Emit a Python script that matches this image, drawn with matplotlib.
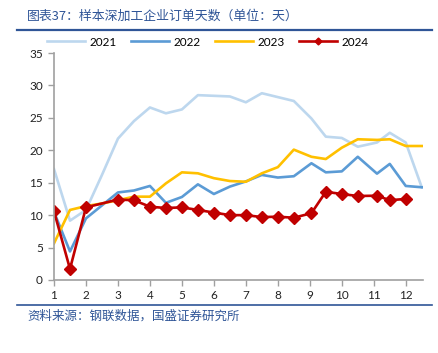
import matplotlib
matplotlib.use("Agg")
import matplotlib.pyplot as plt
from matplotlib.lines import Line2D

plt.rcParams['font.family'] = ['Lato', 'Noto Sans CJK SC', 'DejaVu Sans']

x_all = [1, 1.5, 2, 2.5, 3, 3.5, 4, 4.5, 5, 5.5, 6, 6.5, 7, 7.5, 8, 8.5,
         9.05, 9.5, 10, 10.5, 11.1, 11.5, 12, 12.5]
y2021 = [17.1, 9.15, 10.8, 16.2, 21.8, 24.5, 26.6, 25.7, 26.3, 28.5, 28.4, 28.3,
         27.4, 28.8, 28.2, 27.6, 24.9, 22.1, 21.9, 20.55, 21.2, 22.7, 21.2, 14.3]
y2022 = [10.5, 4.4, 9.5, 11.5, 13.5, 13.8, 14.5, 11.9, 12.8, 14.75, 13.26, 14.4,
         15.2, 16.2, 15.8, 16.0, 18.0, 16.6, 16.75, 19.0, 16.4, 17.9, 14.5, 14.3]
y2023 = [5.65, 10.8, 11.4, 11.8, 12.3, 12.85, 12.85, 14.9, 16.6, 16.45, 15.7, 15.26,
         15.15, 16.45, 17.4, 20.1, 19.0, 18.65, 20.4, 21.7, 21.6, 21.7, 20.66, 20.66]
x2024 = [1, 1.5, 2, 3, 3.5, 4, 4.5, 5, 5.5, 6, 6.5, 7, 7.5, 8, 8.5,
         9.05, 9.5, 10, 10.5, 11.1, 11.5, 12]
y2024 = [10.6, 1.7, 11.2, 12.4, 12.3, 11.3, 11.1, 11.2, 10.8, 10.4, 10.0, 10.0,
         9.7, 9.76, 9.6, 10.3, 13.6, 13.26, 12.95, 13.0, 12.3, 12.5]

x_ticks = list(range(1, 13))
y_ticks = [0, 5, 10, 15, 20, 25, 30, 35]
series_names = ['2021', '2022', '2023', '2024']

title = '图表37：样本深加工企业订单天数（单位：天）'
source = '资料来源：钢联数据，国盛证券研究所'

c21, c22, c23, c24 = '#BDD7EE', '#5B9BD5', '#FFC000', '#C00000'
navy = '#2F5597'

fig = plt.figure(figsize=(4.39, 3.53), dpi=100)
ax = fig.add_axes([54/439, 1-280/353, (422.7-54)/439, (280-53)/353])

lw = 1.9
ax.plot(x_all, y2021, color=c21, lw=lw, label=series_names[0])
ax.plot(x_all, y2022, color=c22, lw=lw, label=series_names[1])
ax.plot(x_all, y2023, color=c23, lw=lw, label=series_names[2])
ax.plot(x2024, y2024, color=c24, lw=lw, marker='D', markersize=6,
        label=series_names[3])

ax.set_xlim(1, 12.53)
ax.set_ylim(0, 35)
ax.set_xticks(x_ticks)
ax.set_yticks(y_ticks)
for s in ['top', 'right']:
    ax.spines[s].set_visible(False)
for s in ['left', 'bottom']:
    ax.spines[s].set_color('#A0A0A0')
    ax.spines[s].set_linewidth(1.2)
ax.tick_params(axis='both', colors='#A0A0A0', length=4, width=1.0,
               labelcolor='#222222', labelsize=8.5)
ax.tick_params(axis='y', pad=4)
ax.tick_params(axis='x', pad=3)
for lab in ax.get_xticklabels() + ax.get_yticklabels():
    lab.set_fontfamily(['Lato', 'DejaVu Sans'])
ax.patch.set_visible(False)

handles = [Line2D([], [], color=c21, lw=lw),
           Line2D([], [], color=c22, lw=lw),
           Line2D([], [], color=c23, lw=lw),
           Line2D([], [], color=c24, lw=lw, marker='D', markersize=3.5)]
fig.legend(handles, series_names, loc='center', bbox_to_anchor=(208/439, 1-42/353),
           ncol=4, frameon=False, fontsize=8.5, handlelength=3.2,
           columnspacing=1.2, handletextpad=0.4)

fig.text(27/439, 1-16/353, title, color=navy, fontsize=9.3, style='italic',
         va='center', ha='left', family=['Noto Sans CJK SC', 'DejaVu Sans'])
fig.text(27/439, 1-316/353, source, color=navy, fontsize=9.0, style='italic',
         va='center', ha='left', family=['Noto Sans CJK SC', 'DejaVu Sans'])

fig.add_artist(Line2D([17/439, 432/439], [1-30/353, 1-30/353], color=navy, lw=1.6))
fig.add_artist(Line2D([17/439, 432/439], [1-305/353, 1-305/353], color=navy, lw=1.2))

fig.savefig('out.png', dpi=100)
